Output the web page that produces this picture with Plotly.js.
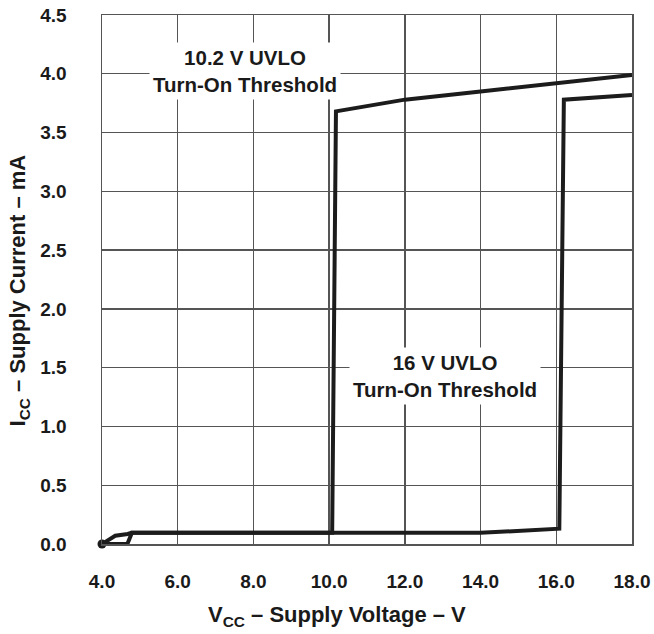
<!DOCTYPE html>
<html>
<head>
<meta charset="utf-8">
<script src="https://cdn.plot.ly/plotly-3.0.1.min.js"></script>
<style>html,body{margin:0;padding:0;background:#fff;}#chart{width:654px;height:634px;}</style>
</head>
<body>
<div id="chart"></div>
<script>
// 10.2 V UVLO curve
const vcc102 = [4.0, 4.35, 4.68, 4.78, 6.0, 8.0, 10.08, 10.18, 12.0, 14.0, 16.0, 16.2, 18.0];
const icc102 = [0.0, 0.07, 0.085, 0.095, 0.095, 0.095, 0.095, 3.68, 3.78, 3.85, 3.92, 3.93, 3.99];
// 16 V UVLO curve
const vcc16 = [4.0, 4.67, 4.79, 6.0, 8.0, 10.0, 12.0, 14.0, 16.08, 16.2, 18.0];
const icc16 = [0.0, 0.0, 0.095, 0.095, 0.095, 0.095, 0.095, 0.095, 0.13, 3.78, 3.82];
// start point dot
const startV = [4.0];
const startI = [0.0];

const xTicks = [4, 6, 8, 10, 12, 14, 16, 18];
const xTickText = ["4.0", "6.0", "8.0", "10.0", "12.0", "14.0", "16.0", "18.0"];
const yTicks = [0, 0.5, 1, 1.5, 2, 2.5, 3, 3.5, 4, 4.5];
const yTickText = ["0.0", "0.5", "1.0", "1.5", "2.0", "2.5", "3.0", "3.5", "4.0", "4.5"];

const label102 = "10.2 V UVLO<br>Turn-On Threshold";
const label16 = "16 V UVLO<br>Turn-On Threshold";
const xTitle = "V<sub>CC</sub> – Supply Voltage – V";
const yTitle = "I<sub>CC</sub> – Supply Current – mA";

const lineColor = "#1c1c1c";
const font = "Liberation Sans, Arial, Helvetica, sans-serif";
const txt = "#1a1a1a";

const traces = [
  {x: vcc102, y: icc102, mode: "lines", line: {color: lineColor, width: 4}, cliponaxis: false, hoverinfo: "skip"},
  {x: vcc16, y: icc16, mode: "lines", line: {color: lineColor, width: 4}, cliponaxis: false, hoverinfo: "skip"},
  {x: startV, y: startI, mode: "markers", marker: {color: lineColor, size: 9}, cliponaxis: false, hoverinfo: "skip"}
];

const layout = {
  width: 654, height: 634,
  margin: {l: 102, r: 22, t: 15, b: 90},
  paper_bgcolor: "#fff", plot_bgcolor: "#fff",
  showlegend: false,
  font: {family: font, color: txt},
  xaxis: {
    range: [4, 18], tickvals: xTicks, ticktext: xTickText,
    showgrid: true, gridcolor: "#555", gridwidth: 1.3,
    showline: true, mirror: true, linecolor: "#555", linewidth: 1.5,
    zeroline: false, ticks: "outside", ticklen: 20, tickcolor: "rgba(0,0,0,0)",
    tickfont: {family: font, size: 19, weight: "bold", color: txt},
    automargin: false
  },
  yaxis: {
    range: [0, 4.5], tickvals: yTicks, ticktext: yTickText,
    showgrid: true, gridcolor: "#555", gridwidth: 1.3,
    showline: true, mirror: true, linecolor: "#555", linewidth: 1.5,
    zeroline: false, ticks: "outside", ticklen: 30, tickcolor: "rgba(0,0,0,0)",
    tickfont: {family: font, size: 19, weight: "bold", color: txt},
    automargin: false
  },
  annotations: [
    {x: 7.78, y: 4.02, xref: "x", yref: "y", text: label102, showarrow: false,
     bgcolor: "#fff", borderpad: 3, align: "center",
     font: {family: font, size: 20.5, weight: "bold", color: txt}},
    {x: 13.05, y: 1.43, xref: "x", yref: "y", text: label16, showarrow: false,
     bgcolor: "#fff", borderpad: 3, align: "center",
     font: {family: font, size: 20.5, weight: "bold", color: txt}},
    {x: 0.443, y: -0.136, xref: "paper", yref: "paper", text: xTitle, showarrow: false,
     xanchor: "center", yanchor: "middle",
     font: {family: font, size: 22, weight: "bold", color: txt}},
    {x: -0.156, y: 0.48, xref: "paper", yref: "paper", text: yTitle, showarrow: false,
     textangle: -90, xanchor: "center", yanchor: "middle",
     font: {family: font, size: 22, weight: "bold", color: txt}}
  ]
};

Plotly.newPlot("chart", traces, layout, {displayModeBar: false, staticPlot: true});
</script>
</body>
</html>
